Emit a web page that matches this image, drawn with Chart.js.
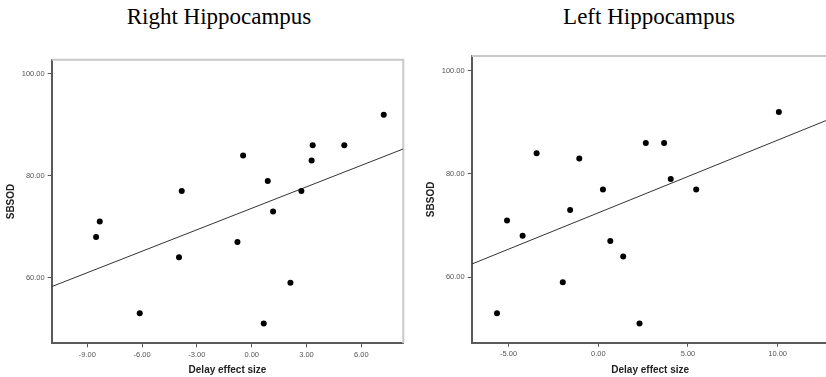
<!DOCTYPE html>
<html>
<head>
<meta charset="utf-8">
<script src="https://cdn.jsdelivr.net/npm/chart.js@4/dist/chart.umd.min.js"></script>
<style>
  html, body { margin: 0; padding: 0; background: #fff; overflow: hidden; }
  #wrap { position: relative; width: 826px; height: 377px; overflow: hidden; }
  canvas { position: absolute; top: 0; }
  .ttl { position: absolute; top: 5px; font: 23px "Liberation Serif", "Times New Roman", serif;
         line-height: 23px; color: #000; white-space: nowrap; transform: translateX(-50%); }
</style>
</head>
<body>
<div id="wrap">
  <div class="ttl" style="left:219px">Right Hippocampus</div>
  <div class="ttl" style="left:649px">Left Hippocampus</div>
  <canvas id="rightChart" width="413" height="377" style="left:0"></canvas>
  <canvas id="leftChart" width="420" height="377" style="left:413px"></canvas>
</div>
<script>
// SBSOD score vs delay effect size
var sbsodRight = [68, 71, 53, 64, 77, 67, 84, 51, 79, 73, 59, 77, 83, 86, 86, 92];
var delayRight = [-8.52, -8.32, -6.13, -3.98, -3.83, -0.78, -0.47, 0.66, 0.88, 1.17, 2.12, 2.72, 3.28, 3.34, 5.07, 7.23];

var sbsodLeft = [53, 71, 68, 84, 59, 73, 83, 77, 67, 64, 51, 86, 86, 79, 77, 92];
var delayLeft = [-5.65, -5.09, -4.22, -3.44, -1.98, -1.57, -1.06, 0.26, 0.67, 1.39, 2.30, 2.65, 3.67, 4.04, 5.46, 10.07];

var xTicksRight = [-9, -6, -3, 0, 3, 6];
var xTicksLeft = [-5, 0, 5, 10];
var yTicks = [60, 80, 100];

function toPoints(xs, ys) {
    return xs.map(function (x, i) { return {x: x, y: ys[i]}; });
}

// least squares fit line, drawn across the whole x range
function fitLine(xs, ys, xmin, xmax) {
    var n = xs.length, mx = 0, my = 0, sxy = 0, sxx = 0;
    for (var i = 0; i < n; i++) { mx += xs[i] / n; my += ys[i] / n; }
    for (var j = 0; j < n; j++) {
        sxy += (xs[j] - mx) * (ys[j] - my);
        sxx += (xs[j] - mx) * (xs[j] - mx);
    }
    var b = sxy / sxx, a = my - b * mx;
    return [{x: xmin, y: a + b * xmin}, {x: xmax, y: a + b * xmax}];
}

var framePlugin = {
    id: 'frame',
    beforeDatasetsDraw: function (chart) {
        var a = chart.chartArea, c = chart.ctx;
        c.save();
        c.strokeStyle = '#c9c9c9';
        c.lineWidth = 2;
        c.beginPath();
        c.moveTo(a.left, a.top);
        c.lineTo(a.right, a.top);
        c.lineTo(a.right, a.bottom);
        c.stroke();
        c.restore();
    }
};

function makeChart(id, xs, ys, xTicks, xr, yr, sizes) {
    var ctx = document.getElementById(id).getContext('2d');
    return new Chart(ctx, {
        type: 'scatter',
        data: {
            datasets: [{
                data: toPoints(xs, ys),
                pointRadius: 3,
                pointBackgroundColor: '#000',
                pointBorderWidth: 0
            }, {
                type: 'line',
                data: fitLine(xs, ys, xr[0], xr[1]),
                borderColor: '#333',
                borderWidth: 1,
                pointRadius: 0
            }]
        },
        options: {
            responsive: false,
            animation: false,
            layout: { padding: { top: sizes.top, right: sizes.right, left: 0, bottom: 0 } },
            plugins: { legend: { display: false }, tooltip: { enabled: false } },
            scales: {
                x: {
                    type: 'linear', min: xr[0], max: xr[1],
                    afterFit: function (s) { s.height = sizes.xh; },
                    afterBuildTicks: function (s) { s.ticks = xTicks.map(function (v) { return {value: v}; }); },
                    grid: { drawOnChartArea: false, drawTicks: true, tickLength: 4, color: '#555' },
                    border: { color: '#5a5a5a', width: 2 },
                    ticks: { padding: 3, color: '#555', font: { family: 'Liberation Sans', size: 7.5 },
                             maxRotation: 0, callback: function (v) { return v.toFixed(2); } },
                    title: { display: true, text: 'Delay effect size', color: '#222',
                             font: { family: 'Liberation Sans', size: 10, weight: 'bold' },
                             padding: { top: 0, bottom: 1 } }
                },
                y: {
                    type: 'linear', min: yr[0], max: yr[1],
                    afterFit: function (s) { s.width = sizes.yw; },
                    afterBuildTicks: function (s) { s.ticks = yTicks.map(function (v) { return {value: v}; }); },
                    grid: { drawOnChartArea: false, drawTicks: true, tickLength: 4, color: '#555' },
                    border: { color: '#5a5a5a', width: 2 },
                    ticks: { padding: 3, color: '#555', font: { family: 'Liberation Sans', size: 7.5 },
                             callback: function (v) { return v.toFixed(2); } },
                    title: { display: true, text: 'SBSOD', color: '#222',
                             font: { family: 'Liberation Sans', size: 10, weight: 'bold' },
                             padding: { top: sizes.ytp, bottom: 0 } }
                }
            }
        },
        plugins: [framePlugin]
    });
}

makeChart('rightChart', delayRight, sbsodRight, xTicksRight, [-10.95, 8.3], [47.1, 102.8],
    { top: 59.7, right: 9.7, xh: 33.7, yw: 51.7, ytp: 5.7 });
makeChart('leftChart', delayLeft, sbsodLeft, xTicksLeft, [-7.06, 12.85], [47.3, 102.85],
    { top: 56, right: 4.3, xh: 34.3, yw: 58.7, ytp: 12.7 });
</script>
</body>
</html>
